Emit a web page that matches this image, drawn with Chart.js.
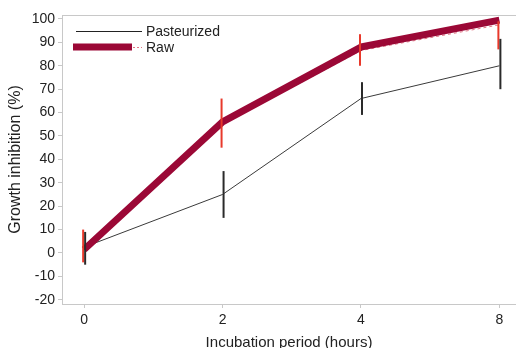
<!DOCTYPE html>
<html><head><meta charset="utf-8">
<script src="https://cdn.jsdelivr.net/npm/chart.js@4.4.0/dist/chart.umd.min.js"></script>
<style>html,body{margin:0;padding:0;background:#fff}#wrap{width:516px;height:348px}</style>
</head><body><div id="wrap"><canvas id="c" width="516" height="348"></canvas></div>
<script>
const categories = ['0', '2', '4', '8'];
const yTicks = [-20, -10, 0, 10, 20, 30, 40, 50, 60, 70, 80, 90, 100];
const pasteurized = [2.5, 25, 66, 80];
const pastLow = [-5, 15, 59, 70];
const pastHigh = [9, 35, 73, 91.5];
const raw = [1.5, 56, 88, 99.5];
const rawLow = [-4, 45, 80, 87];
const rawHigh = [10, 66, 93.5, 99];
const rawDashed = [1.5, 55, 86.5, 97.5];

const toXY = arr => arr.map((v, i) => ({x: i, y: v}));

const FONT = 'Liberation Sans, Arial, sans-serif';

const decor = {
  id: 'decor',
  beforeDatasetsDraw(chart) {
    const {ctx, chartArea: a} = chart;
    ctx.save();
    ctx.strokeStyle = '#c8c8c8';
    ctx.lineWidth = 1;
    ctx.beginPath();
    ctx.moveTo(a.left, a.top + 0.5);
    ctx.lineTo(a.right, a.top + 0.5);
    ctx.stroke();
    ctx.restore();
  },
  afterDatasetsDraw(chart) {
    const {ctx, scales: {x, y}} = chart;
    ctx.save();
    const bars = (lo, hi, color, dx, w) => {
      ctx.strokeStyle = color;
      ctx.lineWidth = w;
      lo.forEach((l, i) => {
        const px = x.getPixelForValue(i) + dx;
        ctx.beginPath();
        ctx.moveTo(px, y.getPixelForValue(l));
        ctx.lineTo(px, y.getPixelForValue(hi[i]));
        ctx.stroke();
      });
    };
    bars(rawLow, rawHigh, '#e8392b', -1, 2);
    bars(pastLow, pastHigh, '#2a2a2a', 1, 2);
    // legend
    ctx.strokeStyle = '#222';
    ctx.lineWidth = 1;
    ctx.beginPath(); ctx.moveTo(76, 31.5); ctx.lineTo(142, 31.5); ctx.stroke();
    ctx.strokeStyle = '#9b0836';
    ctx.lineWidth = 7;
    ctx.beginPath(); ctx.moveTo(73, 47); ctx.lineTo(132, 47); ctx.stroke();
    ctx.strokeStyle = '#e07585';
    ctx.lineWidth = 1;
    ctx.setLineDash([2, 2]);
    ctx.beginPath(); ctx.moveTo(133, 47.5); ctx.lineTo(142, 47.5); ctx.stroke();
    ctx.setLineDash([]);
    ctx.fillStyle = '#222';
    ctx.font = '14px ' + FONT;
    ctx.textBaseline = 'middle';
    ctx.fillText('Pasteurized', 146, 32);
    ctx.fillText('Raw', 146, 48);
    ctx.restore();
  }
};

new Chart(document.getElementById('c'), {
  type: 'line',
  data: {
    datasets: [
      {label: 'Pasteurized', data: toXY(pasteurized), borderColor: '#3a3a3a', borderWidth: 1, pointRadius: 0, tension: 0, order: 3},
      {label: 'RawDashed', data: toXY(rawDashed), borderColor: '#e07585', borderWidth: 1, borderDash: [3, 3], pointRadius: 0, tension: 0, order: 2},
      {label: 'Raw', data: toXY(raw), borderColor: '#9b0836', borderWidth: 7, borderCapStyle: 'butt', borderJoinStyle: 'round', pointRadius: 0, tension: 0, order: 1}
    ]
  },
  options: {
    responsive: false,
    animation: false,
    layout: {padding: {top: 15, right: 0, left: 0, bottom: 0}},
    plugins: {legend: {display: false}, tooltip: {enabled: false}},
    scales: {
      x: {
        type: 'linear', min: -0.16, max: 3.12,
        afterBuildTicks: s => { s.ticks = categories.map((c, i) => ({value: i})); },
        afterFit: s => { s.height = 44; },
        ticks: {callback: (v) => categories[v], color: '#222', font: {family: FONT, size: 14}, padding: 4, maxRotation: 0},
        grid: {drawOnChartArea: false, drawTicks: true, tickLength: 4, color: '#c8c8c8'},
        border: {color: '#c8c8c8'},
        title: {display: true, text: 'Incubation period (hours)', color: '#222', font: {family: FONT, size: 15}, padding: {top: 0, bottom: -4}}
      },
      y: {
        type: 'linear', min: -21.8, max: 101.7,
        afterBuildTicks: s => { s.ticks = yTicks.map(v => ({value: v})); },
        afterFit: s => { s.width = 62; },
        ticks: {color: '#222', font: {family: FONT, size: 14}, padding: 3},
        grid: {drawOnChartArea: false, drawTicks: true, tickLength: 4, color: '#c8c8c8'},
        border: {color: '#c8c8c8'},
        title: {display: true, text: 'Growth inhibition (%)', color: '#222', font: {family: FONT, size: 16}, padding: {top: 6, bottom: 0}}
      }
    }
  },
  plugins: [decor]
});
</script></body></html>
